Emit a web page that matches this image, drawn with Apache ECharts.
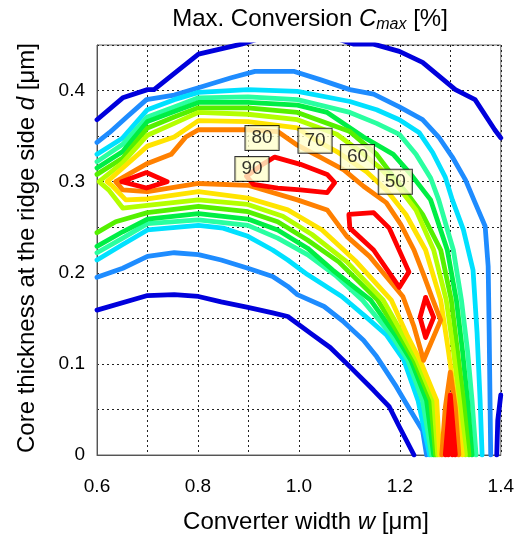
<!DOCTYPE html>
<html><head><meta charset="utf-8">
<script src="https://cdn.jsdelivr.net/npm/echarts/dist/echarts.min.js"></script>
<style>html,body{margin:0;padding:0;background:#fff}#c{width:517px;height:541px}</style>
</head><body><div id="c"></div>
<script>
// ---------------- DATA ----------------
// contour levels [%] (outermost .. innermost)
const levels = [0, 10, 20, 30, 40, 50, 60, 70, 80, 90];
// axis ticks
const xTicks = [0.6, 0.8, 1.0, 1.2, 1.4];
const yTicks = [0, 0.1, 0.2, 0.3, 0.4];
// each contour level: list of polylines of [w (um), d (um)]
const c0 = [
  [[0.600,0.368],[0.651,0.392],[0.700,0.401],[0.713,0.401],[0.801,0.440],[0.886,0.451],[1.000,0.470],[1.109,0.451],[1.148,0.451],[1.199,0.443],[1.245,0.431],[1.310,0.401],[1.349,0.390],[1.388,0.357],[1.400,0.348]],
  [[0.600,0.159],[0.700,0.175],[0.753,0.176],[0.801,0.174],[0.846,0.168],[0.899,0.162],[0.948,0.156],[0.978,0.152],[1.022,0.134],[1.062,0.118],[1.101,0.097],[1.148,0.071],[1.179,0.053],[1.199,0.031],[1.228,0]],
  [[1.400,0.066],[1.394,0.038],[1.392,0]]
];
const c1 = [
  [[0.600,0.343],[0.625,0.354],[0.659,0.371],[0.698,0.390],[0.753,0.395],[0.801,0.403],[0.866,0.414],[0.913,0.421],[0.991,0.421],[1.042,0.412],[1.101,0.401],[1.148,0.396],[1.199,0.382],[1.245,0.368],[1.277,0.349],[1.304,0.327],[1.330,0.302],[1.349,0.277],[1.369,0.251],[1.375,0.207],[1.377,0.134],[1.380,0]],
  [[0.600,0.195],[0.651,0.205],[0.700,0.218],[0.753,0.222],[0.801,0.220],[0.846,0.214],[0.899,0.205],[0.948,0.196],[0.978,0.185],[0.997,0.176],[1.050,0.163],[1.089,0.146],[1.128,0.126],[1.154,0.108],[1.193,0.075],[1.212,0.057],[1.245,0.027],[1.253,0]]
];
const c2 = [
  [[0.600,0.330],[0.651,0.348],[0.700,0.379],[0.753,0.390],[0.801,0.398],[0.899,0.401],[0.997,0.399],[1.101,0.388],[1.154,0.379],[1.199,0.368],[1.238,0.354],[1.265,0.332],[1.290,0.305],[1.304,0.280],[1.326,0.247],[1.345,0.203],[1.353,0.134],[1.359,0.060],[1.363,0]],
  [[0.600,0.214],[0.651,0.231],[0.700,0.247],[0.801,0.252],[0.850,0.249],[0.899,0.240],[0.948,0.225],[0.978,0.214],[1.017,0.198],[1.085,0.174],[1.134,0.151],[1.173,0.132],[1.208,0.104],[1.236,0.060],[1.259,0]]
];
const c3 = [
  [[0.600,0.322],[0.651,0.341],[0.700,0.371],[0.753,0.382],[0.801,0.392],[0.899,0.393],[0.997,0.390],[1.101,0.376],[1.154,0.364],[1.199,0.352],[1.232,0.330],[1.261,0.304],[1.277,0.280],[1.306,0.225],[1.322,0.170],[1.334,0.115],[1.343,0.060],[1.351,0]],
  [[0.600,0.222],[0.651,0.238],[0.700,0.254],[0.801,0.258],[0.899,0.252],[0.958,0.238],[1.017,0.220],[1.075,0.196],[1.126,0.170],[1.183,0.132],[1.216,0.104],[1.245,0.060],[1.263,0]]
];
const c4 = [
  [[0.600,0.315],[0.651,0.333],[0.700,0.366],[0.753,0.377],[0.801,0.387],[0.899,0.387],[0.997,0.384],[1.056,0.376],[1.128,0.349],[1.187,0.330],[1.222,0.308],[1.261,0.280],[1.294,0.225],[1.312,0.170],[1.324,0.115],[1.334,0.060],[1.343,0]],
  [[0.600,0.229],[0.651,0.245],[0.700,0.259],[0.801,0.265],[0.899,0.259],[0.958,0.247],[1.017,0.227],[1.067,0.203],[1.142,0.170],[1.191,0.132],[1.222,0.104],[1.253,0.060],[1.267,0]]
];
const c5 = [
  [[0.600,0.308],[0.651,0.326],[0.700,0.359],[0.753,0.371],[0.801,0.381],[0.899,0.381],[0.997,0.376],[1.101,0.355],[1.154,0.330],[1.189,0.304],[1.216,0.286],[1.245,0.264],[1.281,0.225],[1.302,0.170],[1.314,0.115],[1.326,0.060],[1.337,0]],
  [[0.600,0.244],[0.637,0.256],[0.700,0.266],[0.801,0.273],[0.899,0.267],[0.958,0.256],[1.017,0.236],[1.079,0.212],[1.156,0.170],[1.199,0.132],[1.228,0.104],[1.261,0.060],[1.271,0]]
];
const c6 = [
  [[1.275,0],[1.267,0.060],[1.234,0.104],[1.206,0.132],[1.167,0.170],[1.095,0.212],[1.026,0.242],[0.968,0.262],[0.899,0.275],[0.801,0.280],[0.700,0.274],[0.651,0.271],[0.623,0.291],[0.604,0.300],[0.651,0.321],[0.700,0.351],[0.753,0.364],[0.801,0.376],[0.899,0.374],[0.997,0.368],[1.075,0.352],[1.124,0.332],[1.159,0.316],[1.193,0.297],[1.232,0.269],[1.267,0.225],[1.292,0.170],[1.306,0.115],[1.318,0.060],[1.330,0]]
];
const c7 = [
  [[1.279,0],[1.273,0.060],[1.240,0.104],[1.214,0.132],[1.183,0.170],[1.114,0.212],[1.046,0.247],[0.978,0.269],[0.899,0.282],[0.801,0.289],[0.700,0.281],[0.657,0.280],[0.631,0.295],[0.620,0.300],[0.651,0.315],[0.700,0.339],[0.753,0.349],[0.801,0.367],[0.899,0.366],[0.997,0.359],[1.032,0.346],[1.075,0.333],[1.134,0.311],[1.173,0.291],[1.212,0.264],[1.251,0.225],[1.281,0.170],[1.296,0.115],[1.310,0.060],[1.324,0]]
];
const c8 = [
  [[0.637,0.300],[0.700,0.320],[0.747,0.330],[0.776,0.349],[0.801,0.357],[0.899,0.357],[0.958,0.355],[0.997,0.340],[1.042,0.327],[1.089,0.313],[1.128,0.295],[1.173,0.277],[1.202,0.253],[1.228,0.225],[1.247,0.198],[1.263,0.174],[1.281,0.148],[1.247,0.104],[1.228,0.141],[1.206,0.174],[1.173,0.196],[1.140,0.218],[1.095,0.240],[1.056,0.269],[0.997,0.280],[0.899,0.296],[0.801,0.298],[0.700,0.289],[0.651,0.291],[0.637,0.300]],
  [[1.283,0],[1.290,0.052],[1.300,0.091],[1.310,0.052],[1.317,0]]
];
const c9 = [
  [[0.649,0.300],[0.698,0.310],[0.739,0.300],[0.698,0.293],[0.649,0.300]],
  [[0.896,0.306],[0.928,0.319],[0.952,0.327],[1.003,0.319],[1.056,0.308],[1.071,0.299],[1.056,0.288],[1.003,0.291],[0.958,0.293],[0.910,0.297],[0.896,0.306]],
  [[1.099,0.264],[1.148,0.266],[1.179,0.249],[1.218,0.201],[1.199,0.184],[1.148,0.225],[1.101,0.249],[1.099,0.264]],
  [[1.251,0.173],[1.267,0.151],[1.251,0.129],[1.240,0.151],[1.251,0.173]],
  [[1.290,0],[1.300,0.066],[1.310,0]],
  [[1.296,0],[1.300,0.058],[1.304,0]]
];
// in-line contour labels
const labelText = ['90', '80', '70', '60', '50'];
const labelW = [0.907, 0.927, 1.032, 1.116, 1.191];
const labelD = [0.314, 0.348, 0.345, 0.327, 0.300];

// ---------------- STYLE ----------------
const contours = [c0, c1, c2, c3, c4, c5, c6, c7, c8, c9];
const COLORS = ['#0000dc', '#1e8cff', '#00e1ff', '#2affa0', '#00ee44', '#55f000', '#b4ff00', '#ffe400', '#ff8000', '#ff0000'];
const FF = '"Liberation Sans", Arial, sans-serif';

const series = [];
contours.forEach((polys, i) => {
  polys.forEach(p => {
    series.push({
      type: 'line', name: 'C=' + levels[i], data: p, showSymbol: false, symbol: 'none',
      clip: true, silent: true, animation: false, z: 2 + i,
      lineStyle: { color: COLORS[i], width: 4.8, join: 'round', cap: 'round' }
    });
  });
});
series.push({
  type: 'scatter', z: 20, silent: true, animation: false,
  data: labelText.map((t, i) => [labelW[i], labelD[i], t]),
  symbol: 'rect', symbolSize: 2, itemStyle: { color: 'rgba(0,0,0,0)' },
  label: {
    show: true, position: 'inside', formatter: p => String(p.value[2]),
    fontFamily: FF, fontSize: 19, color: '#000', lineHeight: 19,
    backgroundColor: '#ffffcc', borderColor: '#000', borderWidth: 1, padding: [3, 6, 2, 6]
  }
});

// text runs (measured layout)
const mctx = document.createElement('canvas').getContext('2d');
function runText(runs, cx, cy, rot) {
  let total = 0;
  runs.forEach(r => { mctx.font = r.font; r.w = mctx.measureText(r.t).width; total += r.w; });
  let x = -total / 2;
  const children = runs.map(r => {
    const el = { type: 'text', x: x, y: r.dy || 0, style: { text: r.t, font: r.font, fill: '#000', verticalAlign: 'middle', align: 'left' } };
    x += r.w;
    return el;
  });
  return { type: 'group', x: cx, y: cy, rotation: rot || 0, children: children, silent: true };
}
const N24 = 'normal 24px ' + FF, I24 = 'italic 24px ' + FF, I16 = 'italic 16px ' + FF;

const chart = echarts.init(document.getElementById('c'), null, { renderer: 'canvas' });
chart.setOption({
  animation: false,
  backgroundColor: '#fff',
  grid: { left: 97, right: 11, top: 45, bottom: 86, show: true, borderColor: '#666', borderWidth: 1, backgroundColor: 'transparent' },
  xAxis: {
    type: 'value', min: 0.6, max: 1.4, interval: 0.1,
    axisLine: { show: true, lineStyle: { color: '#555' } }, axisTick: { show: false },
    splitLine: { show: true, lineStyle: { color: '#222', type: [2, 3], width: 1 } },
    axisLabel: {
      fontFamily: FF, fontSize: 19, color: '#000', margin: 22,
      formatter: v => { const k = Math.round(v * 10) / 10; return xTicks.some(t => Math.abs(t - k) < 1e-6) ? k.toFixed(1) : ''; }
    }
  },
  yAxis: {
    type: 'value', min: 0, max: 0.45, interval: 0.05,
    axisLine: { show: true, lineStyle: { color: '#555' } }, axisTick: { show: false },
    splitLine: { show: true, lineStyle: { color: '#222', type: [2, 3], width: 1 } },
    axisLabel: {
      fontFamily: FF, fontSize: 19, color: '#000', margin: 12,
      formatter: v => { const k = Math.round(v * 100) / 100; return yTicks.some(t => Math.abs(t - k) < 1e-6) ? (k === 0 ? '0' : k.toFixed(1)) : ''; }
    }
  },
  series: series,
  graphic: [
    runText([{ t: 'Max. Conversion ', font: N24 }, { t: 'C', font: I24 }, { t: 'max', font: I16, dy: 6 }, { t: ' [%]', font: N24 }], 310, 19, 0),
    runText([{ t: 'Converter width ', font: N24 }, { t: 'w', font: I24 }, { t: ' [\u03bcm]', font: N24 }], 306, 522, 0),
    runText([{ t: 'Core thickness at the ridge side ', font: N24 }, { t: 'd', font: I24 }, { t: ' [\u03bcm]', font: N24 }], 27, 248, Math.PI / 2)
  ]
});
</script></body></html>
